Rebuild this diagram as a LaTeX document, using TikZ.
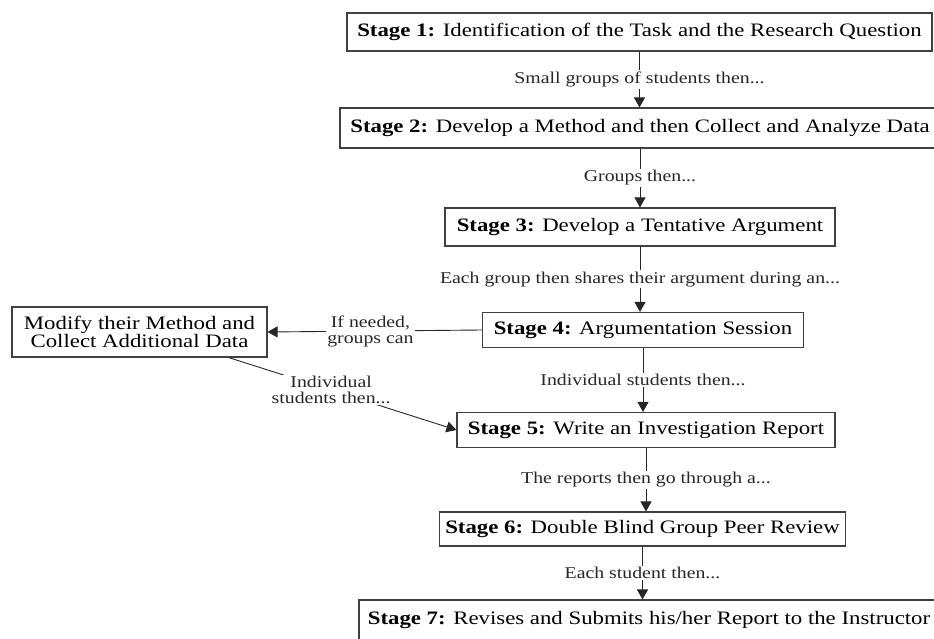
\documentclass[tikz,border=0pt]{standalone}
\usepackage{fontspec}
\setmainfont[FakeStretch=1.2]{Liberation Serif}
\usetikzlibrary{arrows.meta,positioning}
\tikzset{
	stage/.style={draw=black!75,line width=1.1pt,fill=white,font=\fontsize{19}{21}\selectfont,minimum height=38,inner xsep=6pt},
	side/.style={draw=black!75,line width=1.1pt,fill=white,font=\fontsize{19}{18}\selectfont,align=center,minimum height=50,minimum width=255},
	steplabel/.style={fill=white,font=\fontsize{16.5}{16}\selectfont,align=center,inner sep=1.5pt},
	diredge/.style={->,>={Triangle[width=11pt,length=10pt]},color=black!85,line width=0.9pt}
}
\begin{document}
\begin{tikzpicture}[x=1pt,y=-1pt]
	\clip (0,0) rectangle (934,639);
	
	%%Stages of the investigation
	\node[stage,minimum width=585] (s1) at (639.5,32) {\textbf{Stage 1:} Identification of the Task and the Research Question};
	\node[stage,minimum width=600,minimum height=40] (s2) at (640,128) {\textbf{Stage 2:} Develop a Method and then Collect and Analyze Data};
	\node[stage,minimum width=390] (s3) at (640,227) {\textbf{Stage 3:} Develop a Tentative Argument};
	\node[stage,minimum width=321,minimum height=35] (s4) at (643,330) {\textbf{Stage 4:} Argumentation Session};
	\node[stage,minimum width=378,minimum height=35] (s5) at (646,430) {\textbf{Stage 5:} Write an Investigation Report};
	\node[stage,minimum width=405,minimum height=34] (s6) at (642.5,529) {\textbf{Stage 6:} Double Blind Group Peer Review};
	\node[stage,minimum width=580,minimum height=40] (s7) at (649,620) {\textbf{Stage 7:} Revises and Submits his/her Report to the Instructor};
	
	%%Extra loop
	\node[side] (mod) at (139.5,332) {Modify their Method and\\Collect Additional Data};
	
	%%% edges down the stages
	\draw[diredge] (s1.south) to node[steplabel] {Small groups of students then...} (s1.south |- s2.north);
	\draw[diredge] (s2.south) to node[steplabel] {Groups then...} (s2.south |- s3.north);
	\draw[diredge] (s3.south) to node[steplabel] {Each group then shares their argument during an...} (s3.south |- s4.north);
	\draw[diredge] (s4.south) to node[steplabel] {Individual students then...} (s4.south |- s5.north);
	\draw[diredge] (s5.south) to node[steplabel] {The reports then go through a...} (s5.south |- s6.north);
	\draw[diredge] (s6.south) to node[steplabel] {Each student then...} (s6.south |- s7.north);
	
	%%% edges to and from the extra loop
	\draw[diredge] (s4.west) to node[steplabel,pos=0.52] {If needed,\\groups can} (mod.east);
	\draw[diredge] (mod.-16) to node[steplabel,pos=0.45] {Individual\\students then...} (s5.west);
	
\end{tikzpicture}
\end{document}
